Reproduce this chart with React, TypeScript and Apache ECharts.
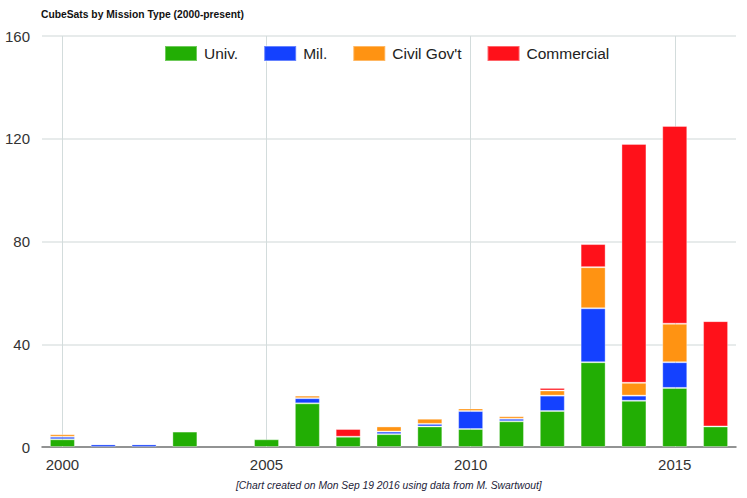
import React, { useEffect, useRef } from "react";
import * as echarts from "echarts";

const years = ["2000","2001","2002","2003","2004","2005","2006","2007","2008","2009","2010","2011","2012","2013","2014","2015","2016"];
const univ =       [3, 0, 0, 6, 0, 3, 17, 4, 5, 8, 7, 10, 14, 33, 18, 23, 8];
const mil =        [1, 1, 1, 0, 0, 0, 2, 0, 1, 1, 7, 1, 6, 21, 2, 10, 0];
const civil =      [1, 0, 0, 0, 0, 0, 1, 0, 2, 2, 1, 1, 2, 16, 5, 15, 0];
const commercial = [0, 0, 0, 0, 0, 0, 0, 3, 0, 0, 0, 0, 1, 9, 93, 77, 41];
const gridYears = ["2000", "2005", "2010", "2015"];
const yTicks = { min: 0, max: 160, interval: 40 };

const FONT = "Arial, 'Liberation Sans', sans-serif";

export default function App() {
  const ref = useRef<HTMLDivElement>(null);
  useEffect(() => {
    if (!ref.current) return;
    const chart = echarts.init(ref.current, null, { renderer: "svg" });
    const mk = (name: string, data: number[], color: string) => ({
      name,
      type: "bar",
      stack: "total",
      data: data.map((v) => (v === 0 ? "-" : v)),
      barWidth: 25,
      z: 3,
      itemStyle: {
        color,
        borderColor: "rgba(255,255,255,0.35)",
        borderWidth: 1,
      },
    });
    chart.setOption({
      animation: false,
      textStyle: { fontFamily: FONT },
      title: {
        text: "CubeSats by Mission Type (2000-present)",
        left: 41,
        top: 9,
        padding: 0,
        textStyle: { fontSize: 10.3, fontWeight: "bold", color: "#111", fontFamily: FONT },
      },
      legend: {
        left: 164,
        top: 45,
        padding: 0,
        itemWidth: 32,
        itemHeight: 15,
        itemGap: 25,
        icon: "rect",
        textStyle: { fontSize: 15.5, color: "#222", fontFamily: FONT, padding: [0, 0, 0, 2] },
        data: ["Univ.", "Mil.", "Civil Gov't", "Commercial"],
      },
      grid: { left: 42, right: 11, top: 36, bottom: 51 },
      xAxis: {
        type: "category",
        data: years,
        axisTick: { show: false },
        axisLine: { lineStyle: { color: "#777", width: 1.5 } },
        axisLabel: {
          interval: (i: number) => i % 5 === 0,
          fontSize: 15,
          color: "#333",
          margin: 10,
          fontFamily: FONT,
        },
        splitLine: { show: false },
      },
      yAxis: {
        type: "value",
        min: yTicks.min,
        max: yTicks.max,
        interval: yTicks.interval,
        axisLine: { show: false },
        axisTick: { show: false },
        axisLabel: { fontSize: 15, color: "#333", margin: 12, fontFamily: FONT },
        splitLine: { lineStyle: { color: "#dfe5e5", width: 1.5 } },
      },
      series: [
        {
          type: "line",
          data: [],
          z: 1,
          silent: true,
          markLine: {
            z: 1,
            silent: true,
            symbol: "none",
            label: { show: false },
            lineStyle: { color: "#d3dcdc", width: 1, type: "solid" },
            data: gridYears.map((y) => ({ xAxis: y })),
          },
        },
        mk("Univ.", univ, "#22ae04"),
        mk("Mil.", mil, "#1441ff"),
        mk("Civil Gov't", civil, "#ff9312"),
        mk("Commercial", commercial, "#ff111a"),
      ],
      graphic: [
        {
          type: "text",
          left: 236,
          top: 480,
          style: {
            text: "[Chart created on Mon Sep 19 2016 using data from M. Swartwout]",
            fontSize: 10.3,
            fontStyle: "italic",
            fill: "#222238",
            fontFamily: FONT,
          },
        },
      ],
    });
    return () => chart.dispose();
  }, []);
  return (
    <div
      ref={ref}
      style={{ position: "absolute", left: 0, top: 0, width: 747, height: 498, background: "#fff" }}
    />
  );
}
